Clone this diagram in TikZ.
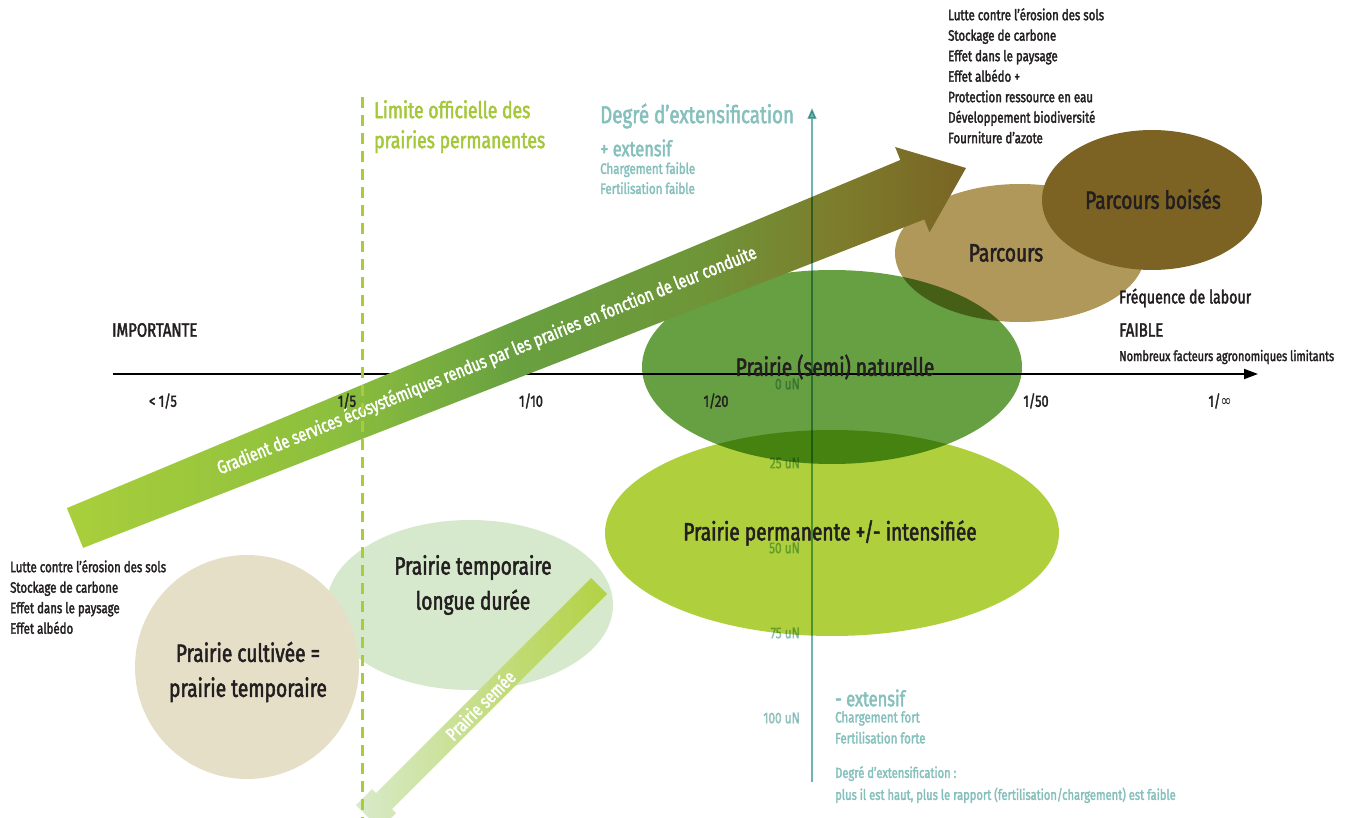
\documentclass[tikz,border=0pt]{standalone}
\usepackage{fontspec}
\setmainfont{Fira Sans}[FakeStretch=0.765, FakeBold=2]
\newfontfamily\djv{DejaVu Sans}[FakeStretch=0.8]
\usetikzlibrary{arrows.meta}
\definecolor{textdark}{RGB}{35,31,32}
\definecolor{teal}{RGB}{133,192,189}
\definecolor{tealaxis}{RGB}{111,180,178}
\definecolor{tealuN}{RGB}{168,208,206}
\definecolor{limgreen}{RGB}{165,200,58}
\definecolor{dashgreen}{RGB}{168,204,60}
\definecolor{natgreen}{RGB}{102,160,66}
\definecolor{permgreen}{RGB}{175,208,60}
\definecolor{tempgreen}{RGB}{215,233,205}
\definecolor{cultbeige}{RGB}{230,223,200}
\definecolor{parcourscol}{RGB}{176,152,90}
\definecolor{boisescol}{RGB}{124,99,36}
\definecolor{arA}{RGB}{169,207,59}
\definecolor{arB}{RGB}{140,191,62}
\definecolor{arC}{RGB}{104,160,64}
\definecolor{arD}{RGB}{110,150,56}
\definecolor{arE}{RGB}{125,124,44}
\definecolor{arF}{RGB}{122,100,36}
\definecolor{semeetop}{RGB}{178,210,67}
\definecolor{semeebot}{RGB}{217,234,203}
\pgfdeclarehorizontalshading{gradarrow}{100bp}{color(0bp)=(arA); color(25bp)=(arA); color(40bp)=(arB); color(50bp)=(arC); color(60bp)=(arD); color(68bp)=(arE); color(75bp)=(arF); color(100bp)=(arF)}
\begin{document}
\begin{tikzpicture}[x=1pt,y=-1pt,
  txt/.style={text=textdark, inner sep=0pt},
  bigtxt/.style={txt, font=\fontsize{25}{35}\selectfont, align=center},
  smalltxt/.style={txt, font=\fontsize{15}{20.5}\selectfont, align=left},
  ticktxt/.style={txt, font=\fontsize{16.5}{18}\selectfont},
  untxt/.style={text=tealuN, inner sep=0pt, anchor=east, font=\fontsize{15.5}{18}\selectfont, blend mode=multiply},
  tealtxt/.style={text=teal, inner sep=0pt, align=left},
  whitetxt/.style={text=white, inner sep=0pt}]
\useasboundingbox (0,0) rectangle (1352,818);
\fill[white] (0,0) rectangle (1352,818);

% horizontal axis
\coordinate (hstart) at (113,374);
\coordinate (hend) at (1258,374);
\draw[black, line width=1.8pt, -{Triangle[length=14pt,width=10pt]}] (hstart) -- (hend);

% ellipses
\fill[tempgreen] (470,605) ellipse [x radius=143pt, y radius=85pt];
\fill[cultbeige] (247,667) circle [radius=112pt];
\fill[permgreen] (832,533) ellipse [x radius=227pt, y radius=103pt];
\fill[parcourscol] (1020,253) ellipse [x radius=125pt, y radius=69pt];
\fill[natgreen, blend mode=multiply] (832,367) ellipse [x radius=190pt, y radius=97pt];
\fill[boisescol] (1152,200) ellipse [x radius=110pt, y radius=70pt];

% gradient arrow
\shade[shading=gradarrow]
  (66.9,508.1) -- (900.3,160.0) -- (895.1,147.0) -- (966,168) -- (929.5,232.4)
  -- (924.3,219.4) -- (83.1,547.9) -- cycle;
\node[whitetxt, rotate=22, font=\fontsize{18.8}{22}\selectfont] (gradtxt) at (487,361)
  {Gradient de services écosystémiques rendus par les prairies en fonction de leur conduite};

% prairie semee bar
\shade[left color=semeebot, right color=semeetop]
  (591,578) -- (607,594) -- (392,809) -- (396,813) -- (380,829) -- (356,805) -- (372,789) -- (376,793) -- cycle;
\node[whitetxt, rotate=45, font=\fontsize{19}{21}\selectfont] (semeetxt) at (480,705) {Prairie semée};

% dashed limit line
\coordinate (dtop) at (362,97);
\coordinate (dbot) at (362,818);
\draw[dashgreen, line width=3pt, dash pattern=on 11pt off 7pt] (dtop) -- (dbot);

% vertical axis
\coordinate (vbot) at (812,782);
\coordinate (vtop) at (812,108);
\draw[tealaxis, line width=1.6pt, blend mode=multiply, -{Triangle[length=11pt,width=9pt]}] (vbot) -- (vtop);

% uN labels
\node[untxt] (n0) at (800,384) {0 uN};
\node[untxt] (n25) at (800,463) {25 uN};
\node[untxt] (n50) at (800,548) {50 uN};
\node[untxt] (n75) at (800,633) {75 uN};
\node[untxt] (n100) at (800,718) {100 uN};

% tick labels
\node[ticktxt] (t1) at (163,401) {< 1/5};
\node[ticktxt] (t2) at (347,401) {1/5};
\node[ticktxt] (t3) at (531,401) {1/10};
\node[ticktxt] (t4) at (716,401) {1/20};
\node[ticktxt] (t5) at (1036,401) {1/50};
\node[ticktxt] (t6) at (1220,401) {1/{\djv ∞}};

% ellipse labels
\node[bigtxt] (lnat) at (835,367) {Prairie (semi) naturelle};
\node[bigtxt] (lperm) at (830,533) {Prairie permanente +/- intensifiée};
\node[bigtxt] (lparc) at (1006,253) {Parcours};
\node[bigtxt] (lbois) at (1153,199) {Parcours boisés};
\node[bigtxt] (ltemp) at (473,585) {Prairie temporaire\\longue durée};
\node[bigtxt] (lcult) at (248,672) {Prairie cultivée =\\prairie temporaire};

% lists
\node[smalltxt, anchor=north west] (listtop) at (948,8)
  {Lutte contre l’érosion des sols\\Stockage de carbone\\Effet dans le paysage\\Effet albédo +\\Protection ressource en eau\\Développement biodiversité\\Fourniture d’azote};
\node[smalltxt, anchor=north west] (listleft) at (10,560)
  {Lutte contre l’érosion des sols\\Stockage de carbone\\Effet dans le paysage\\Effet albédo};

% axis texts
\node[txt, anchor=west, font=\fontsize{19.5}{22}\selectfont] (imp) at (112,330) {IMPORTANTE};
\node[txt, anchor=west, font=\fontsize{18.5}{22}\selectfont] (freq) at (1119,298) {Fréquence de labour};
\node[txt, anchor=west, font=\fontsize{19.5}{22}\selectfont] (faible) at (1119,330) {FAIBLE};
\node[txt, anchor=west, font=\fontsize{14.3}{16}\selectfont] (nomb) at (1119,357) {Nombreux facteurs agronomiques limitants};

% limit text
\node[text=limgreen, inner sep=0pt, align=left, anchor=north west, font=\fontsize{23}{30}\selectfont] (limite) at (374,100)
  {Limite officielle des\\prairies permanentes};

% teal texts
\node[tealtxt, anchor=west, font=\fontsize{24.5}{28}\selectfont] (degre) at (600,116) {Degré d’extensification};
\node[tealtxt, anchor=west, font=\fontsize{21.5}{24}\selectfont] (plusext) at (600,148) {+ extensif};
\node[tealtxt, anchor=north west, font=\fontsize{15}{20}\selectfont] (chfaible) at (600,162) {Chargement faible\\Fertilisation faible};
\node[tealtxt, anchor=west, font=\fontsize{21.5}{24}\selectfont] (moinsext) at (835,698) {- extensif};
\node[tealtxt, anchor=north west, font=\fontsize{15}{21}\selectfont] (chfort) at (835,711) {Chargement fort\\Fertilisation forte};
\node[tealtxt, anchor=north west, font=\fontsize{14.6}{22}\selectfont] (note) at (835,766) {Degré d’extensification :\\plus il est haut, plus le rapport (fertilisation/chargement) est faible};
\end{tikzpicture}
\end{document}
